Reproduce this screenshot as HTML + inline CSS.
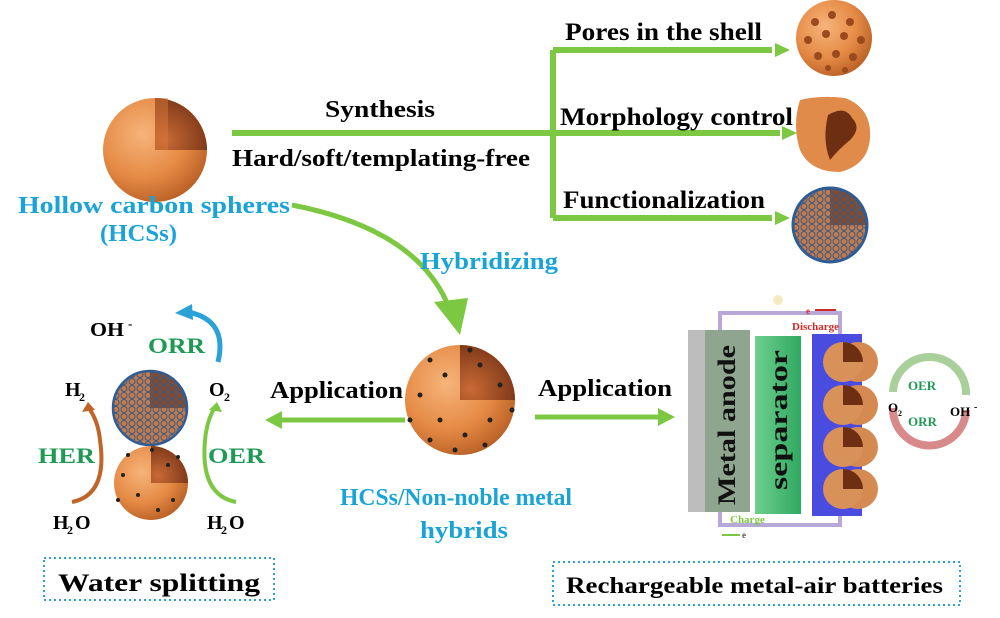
<!DOCTYPE html>
<html><head><meta charset="utf-8"><style>
html,body{margin:0;padding:0;background:#fff;width:1000px;height:618px;overflow:hidden}
text{font-family:"Liberation Serif",serif;font-weight:bold}
</style></head><body>
<svg width="1000" height="618" viewBox="0 0 1000 618" xmlns="http://www.w3.org/2000/svg">
<defs>
<radialGradient id="og" cx="0.38" cy="0.35" r="0.7"><stop offset="0" stop-color="#f6b47a"/><stop offset="0.6" stop-color="#e58a45"/><stop offset="1" stop-color="#b85f25"/></radialGradient>
<radialGradient id="in" cx="0.2" cy="0.8" r="1"><stop offset="0" stop-color="#c96a35"/><stop offset="1" stop-color="#6e2e12"/></radialGradient>
<pattern id="hex" width="8" height="7" patternUnits="userSpaceOnUse"><circle cx="4" cy="3.5" r="3" fill="none" stroke="#2f5c94" stroke-width="1"/></pattern>
<linearGradient id="sep" x1="0" x2="1"><stop offset="0" stop-color="#6fcf8f"/><stop offset="1" stop-color="#2fa860"/></linearGradient>
</defs>

<circle cx="155" cy="150" r="52" fill="url(#og)"/>
<path d="M155,150 L155,98 A52,52 0 0 1 207,150 Z" fill="url(#in)"/>
<path d="M155,150 L155,98 L168,98 L168,150 Z" fill="#d7783a" opacity="0.5"/>

<g stroke="#7dc843" stroke-width="6" fill="none">
<line x1="232" y1="133" x2="780" y2="133"/>
<line x1="553" y1="50" x2="553" y2="218"/>
<line x1="553" y1="50" x2="772" y2="50"/>
<line x1="553" y1="218" x2="772" y2="218"/>
</g>
<g fill="#7dc843">
<path d="M775,43 L790,50 L775,57z"/><path d="M782,126 L797,133 L782,140z"/><path d="M775,211 L790,218 L775,225z"/>
</g>
<text x="325" y="117" font-size="24" textLength="110" lengthAdjust="spacingAndGlyphs">Synthesis</text>
<text x="232" y="166" font-size="24" textLength="298" lengthAdjust="spacingAndGlyphs">Hard/soft/templating-free</text>
<text x="565" y="40" font-size="25" textLength="197" lengthAdjust="spacingAndGlyphs">Pores in the shell</text>
<text x="560" y="125" font-size="25" textLength="233" lengthAdjust="spacingAndGlyphs">Morphology control</text>
<text x="563" y="208" font-size="25" textLength="202" lengthAdjust="spacingAndGlyphs">Functionalization</text>

<circle cx="834" cy="38" r="38" fill="url(#og)"/>
<g fill="#9a4a1c">
<circle cx="815" cy="22" r="4"/><circle cx="832" cy="15" r="4"/><circle cx="850" cy="22" r="4"/><circle cx="808" cy="40" r="4"/><circle cx="826" cy="34" r="4"/><circle cx="844" cy="36" r="4"/><circle cx="861" cy="40" r="4"/><circle cx="818" cy="56" r="4"/><circle cx="836" cy="54" r="4"/><circle cx="853" cy="57" r="4"/><circle cx="828" cy="68" r="3"/><circle cx="845" cy="70" r="3"/></g>
<path d="M800,100 Q820,95 845,98 Q872,108 870,138 Q868,165 840,172 Q810,172 800,150 Q792,125 800,100z" fill="#e08b4a"/>
<path d="M828,115 Q845,105 852,118 Q862,128 850,140 Q838,150 830,160 Q822,140 828,115z" fill="#6e2e12"/>
<circle cx="830" cy="225" r="37" fill="#c77a45"/>
<path d="M830,225 L830,188 A37,37 0 0 1 867,225Z" fill="#8a4a25"/>
<circle cx="830" cy="225" r="37" fill="url(#hex)"/>
<circle cx="830" cy="225" r="37" fill="none" stroke="#2f5c94" stroke-width="3"/>

<text x="18" y="213" font-size="24" fill="#1aa3d6" textLength="272" lengthAdjust="spacingAndGlyphs">Hollow carbon spheres</text>
<text x="100" y="241" font-size="24" fill="#1aa3d6" textLength="77" lengthAdjust="spacingAndGlyphs">(HCSs)</text>
<path d="M292,205 Q420,230 450,310" stroke="#7dc843" stroke-width="5" fill="none"/>
<path d="M434,302 L460,335 L468,298z" fill="#7dc843"/>
<text x="420" y="269" font-size="24" fill="#1aa3d6" textLength="138" lengthAdjust="spacingAndGlyphs">Hybridizing</text>

<circle cx="460" cy="400" r="55" fill="url(#og)"/>
<path d="M460,400 L460,345 A55,55 0 0 1 515,400Z" fill="url(#in)"/>
<g fill="#222"><circle cx="430" cy="360" r="2.5"/><circle cx="445" cy="375" r="2.5"/><circle cx="420" cy="395" r="2.5"/><circle cx="440" cy="420" r="2.5"/><circle cx="465" cy="435" r="2.5"/><circle cx="490" cy="420" r="2.5"/><circle cx="480" cy="365" r="2.5"/><circle cx="500" cy="385" r="2.5"/><circle cx="410" cy="420" r="2.5"/><circle cx="455" cy="450" r="2.5"/><circle cx="512" cy="410" r="2.5"/><circle cx="470" cy="350" r="2.5"/><circle cx="430" cy="440" r="2.5"/><circle cx="485" cy="445" r="2.5"/></g>
<text x="270" y="398" font-size="24" textLength="133" lengthAdjust="spacingAndGlyphs">Application</text>
<text x="538" y="396" font-size="24" textLength="134" lengthAdjust="spacingAndGlyphs">Application</text>
<line x1="405" y1="420" x2="280" y2="420" stroke="#7dc843" stroke-width="5"/>
<path d="M282,411 L265,420 L282,429z" fill="#7dc843"/>
<line x1="535" y1="417" x2="660" y2="417" stroke="#7dc843" stroke-width="5"/>
<path d="M658,408 L675,417 L658,426z" fill="#7dc843"/>
<text x="340" y="505" font-size="24" fill="#1aa3d6" textLength="232" lengthAdjust="spacingAndGlyphs">HCSs/Non-noble metal</text>
<text x="420" y="538" font-size="24" fill="#1aa3d6" textLength="88" lengthAdjust="spacingAndGlyphs">hybrids</text>

<text x="90" y="336" font-size="20" textLength="34" lengthAdjust="spacingAndGlyphs">OH</text><text x="128" y="328" font-size="13">-</text>
<text x="148" y="353" font-size="22" fill="#1e9a55" textLength="57" lengthAdjust="spacingAndGlyphs">ORR</text>
<path d="M218,362 Q228,320 188,312" stroke="#2aa2d8" stroke-width="5" fill="none"/>
<path d="M192,304 L175,313 L193,320z" fill="#2aa2d8"/>
<circle cx="150" cy="408" r="37" fill="#c77a45"/>
<path d="M150,408 L150,371 A37,37 0 0 1 187,408Z" fill="#8a4a25"/>
<circle cx="150" cy="408" r="37" fill="url(#hex)"/>
<circle cx="150" cy="408" r="37" fill="none" stroke="#2f5c94" stroke-width="2.5"/>
<circle cx="151" cy="483" r="37" fill="url(#og)"/>
<path d="M151,483 L151,446 A37,37 0 0 1 188,483Z" fill="url(#in)"/>
<g fill="#222"><circle cx="123" cy="475" r="2"/><circle cx="138" cy="495" r="2"/><circle cx="158" cy="510" r="2"/><circle cx="173" cy="500" r="2"/><circle cx="128" cy="455" r="2"/><circle cx="168" cy="465" r="2"/><circle cx="178" cy="457" r="2"/><circle cx="118" cy="500" r="2"/><circle cx="152" cy="450" r="2"/></g>
<text x="65" y="396" font-size="20">H</text><text x="79" y="401" font-size="12">2</text>
<text x="209" y="396" font-size="20">O</text><text x="224" y="401" font-size="12">2</text>
<text x="38" y="463" font-size="22" fill="#1e9a55" textLength="57" lengthAdjust="spacingAndGlyphs">HER</text>
<text x="208" y="463" font-size="22" fill="#1e9a55" textLength="57" lengthAdjust="spacingAndGlyphs">OER</text>
<path d="M72,502 Q108,495 100,440 Q98,420 88,407" stroke="#c0652a" stroke-width="4" fill="none"/>
<path d="M82,412 L88,402 L95,410z" fill="#c0652a"/>
<path d="M236,502 Q200,495 205,440 Q207,420 215,407" stroke="#7dc843" stroke-width="4" fill="none"/>
<path d="M209,410 L217,402 L222,412z" fill="#7dc843"/>
<text x="53" y="529" font-size="20">H</text><text x="67" y="534" font-size="12">2</text><text x="75" y="529" font-size="20">O</text>
<text x="207" y="529" font-size="20">H</text><text x="221" y="534" font-size="12">2</text><text x="229" y="529" font-size="20">O</text>
<rect x="44" y="558" width="230" height="42" fill="none" stroke="#2aa2d8" stroke-width="2" stroke-dasharray="2,3"/>
<text x="58" y="591" font-size="25" textLength="202" lengthAdjust="spacingAndGlyphs">Water  splitting</text>

<rect x="720" y="313" width="120" height="212" fill="none" stroke="#b7a8d8" stroke-width="4"/>
<circle cx="778" cy="300" r="5" fill="#f4ecc0"/>
<rect x="688" y="330" width="62" height="182" fill="#8fa58f"/>
<rect x="688" y="330" width="17" height="182" fill="#bdbdbd"/>
<rect x="755" y="336" width="46" height="178" fill="url(#sep)"/>
<rect x="812" y="334" width="50" height="182" fill="#4a4ce0"/>
<text transform="translate(735,425) rotate(-90)" font-size="25" text-anchor="middle" fill="#111" textLength="160" lengthAdjust="spacingAndGlyphs">Metal anode</text>
<text transform="translate(787,420) rotate(-90)" font-size="25" text-anchor="middle" fill="#111" textLength="140" lengthAdjust="spacingAndGlyphs">separator</text>
<text x="792" y="330" font-size="11" fill="#d02a2a">Discharge</text>
<text x="806" y="314" font-size="9" fill="#d02a2a">e</text>
<line x1="815" y1="310" x2="836" y2="310" stroke="#d02a2a" stroke-width="2"/>
<text x="730" y="523" font-size="11" fill="#7dc843">Charge</text>
<line x1="722" y1="535" x2="740" y2="535" stroke="#7dc843" stroke-width="2"/>
<text x="742" y="538" font-size="9" fill="#555">e</text>
<g>
<g><circle cx="858" cy="362" r="20" fill="#d48a50"/><circle cx="843" cy="362" r="20" fill="#d9915a"/><path d="M843,362 L843,342 A20,20 0 0 1 863,362Z" fill="#6e2e12"/></g>
<g transform="translate(0,43)"><circle cx="858" cy="362" r="20" fill="#d48a50"/><circle cx="843" cy="362" r="20" fill="#d9915a"/><path d="M843,362 L843,342 A20,20 0 0 1 863,362Z" fill="#6e2e12"/></g>
<g transform="translate(0,85)"><circle cx="858" cy="362" r="20" fill="#d48a50"/><circle cx="843" cy="362" r="20" fill="#d9915a"/><path d="M843,362 L843,342 A20,20 0 0 1 863,362Z" fill="#6e2e12"/></g>
<g transform="translate(0,127)"><circle cx="858" cy="362" r="20" fill="#d48a50"/><circle cx="843" cy="362" r="20" fill="#d9915a"/><path d="M843,362 L843,342 A20,20 0 0 1 863,362Z" fill="#6e2e12"/></g>
</g>
<path d="M893,392 A36,36 0 0 1 966,395" stroke="#a9cf9a" stroke-width="8" fill="none"/>
<path d="M966,410 A36,36 0 0 1 893,408" stroke="#d88a8a" stroke-width="8" fill="none"/>
<text x="908" y="390" font-size="13" fill="#1e9a55">OER</text>
<text x="908" y="426" font-size="13" fill="#1e9a55">ORR</text>
<text x="888" y="412" font-size="13">O</text><text x="898" y="416" font-size="8">2</text>
<text x="950" y="416" font-size="13">OH</text><text x="974" y="410" font-size="10">-</text>
<rect x="553" y="562" width="407" height="43" fill="none" stroke="#2aa2d8" stroke-width="2" stroke-dasharray="2,3"/>
<text x="566" y="593" font-size="23" textLength="377" lengthAdjust="spacingAndGlyphs">Rechargeable metal-air batteries</text>
</svg>
</body></html>
